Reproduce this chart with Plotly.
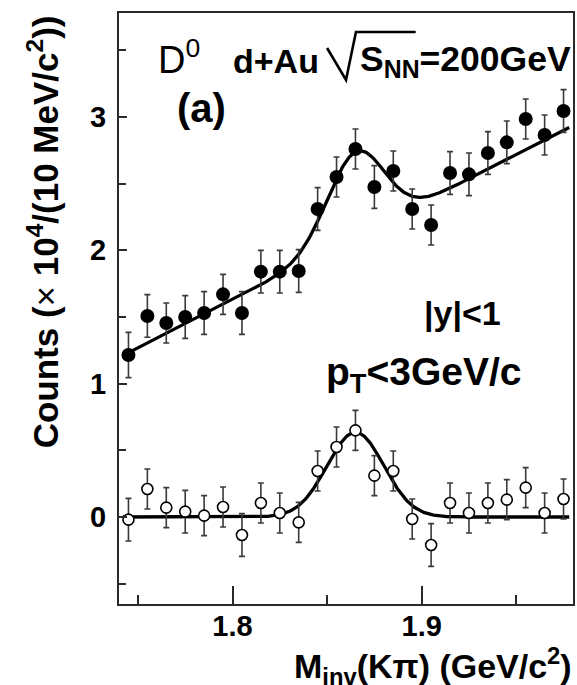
import numpy as np
import plotly.graph_objects as go

# Invariant-mass bin centres (GeV/c^2), 10 MeV bins
mass = [1.745, 1.755, 1.765, 1.775, 1.785, 1.795, 1.805, 1.815, 1.825, 1.835,
        1.845, 1.855, 1.865, 1.875, 1.885, 1.895, 1.905, 1.915, 1.925, 1.935,
        1.945, 1.955, 1.965, 1.975]

# Unlike-sign K-pi pairs (x10^4 counts per bin)
counts_total = [1.215, 1.508, 1.455, 1.50, 1.53, 1.67, 1.53, 1.84, 1.84, 1.845,
                2.31, 2.55, 2.76, 2.475, 2.595, 2.31, 2.19, 2.58, 2.57, 2.73,
                2.81, 2.985, 2.865, 3.045]
err_total = [0.17, 0.16, 0.15, 0.16, 0.16, 0.15, 0.16, 0.16, 0.16, 0.16,
             0.16, 0.15, 0.15, 0.16, 0.15, 0.15, 0.15, 0.16, 0.16, 0.16,
             0.16, 0.15, 0.15, 0.16]

# Background-subtracted signal
counts_signal = [-0.02, 0.21, 0.07, 0.04, 0.01, 0.075, -0.135, 0.105, 0.03, -0.04,
                 0.345, 0.525, 0.65, 0.31, 0.345, -0.015, -0.21, 0.105, 0.03, 0.105,
                 0.13, 0.22, 0.03, 0.135]
err_signal = [0.16, 0.15, 0.15, 0.16, 0.15, 0.15, 0.16, 0.15, 0.15, 0.15,
              0.15, 0.15, 0.15, 0.15, 0.15, 0.15, 0.16, 0.15, 0.15, 0.15,
              0.15, 0.15, 0.15, 0.15]

# Fit: Gaussian peak on a linear background
peak_mass = 1.865
peak_sigma = 0.015
peak_amp = 0.635
bkg_ref_mass = 1.745
bkg_at_ref = 1.232
bkg_slope = 7.25

x_range = [1.74, 1.98]
y_range = [-0.6525, 3.78]

fit_m = np.linspace(1.742, 1.978, 400)
fit_signal = peak_amp * np.exp(-0.5 * ((fit_m - peak_mass) / peak_sigma) ** 2)
fit_total = bkg_at_ref + bkg_slope * (fit_m - bkg_ref_mass) + fit_signal

W, H = 577, 685
ML, MR, MT, MB = 119, 2, 13, 81
PW, PH = W - ML - MR, H - MT - MB


def px(x):
    return (x - ML) / PW


def py(y):
    return (H - MB - y) / PH


FONT = "Liberation Sans, Arial, sans-serif"
ERR_COLOR = "#3a3a3a"

fig = go.Figure()

fig.add_trace(go.Scatter(
    x=fit_m, y=fit_total, mode="lines",
    line=dict(color="black", width=3.3), hoverinfo="skip"))
fig.add_trace(go.Scatter(
    x=fit_m, y=fit_signal, mode="lines",
    line=dict(color="black", width=3.3), hoverinfo="skip"))

fig.add_trace(go.Scatter(
    x=mass, y=counts_total, mode="markers",
    marker=dict(symbol="circle", size=14, color="black"),
    error_y=dict(type="data", array=err_total, color=ERR_COLOR,
                 thickness=1.6, width=3)))
fig.add_trace(go.Scatter(
    x=mass, y=counts_signal, mode="markers",
    marker=dict(symbol="circle", size=11, color="white",
                line=dict(color="black", width=1.6)),
    error_y=dict(type="data", array=err_signal, color=ERR_COLOR,
                 thickness=1.6, width=3)))

axis_common = dict(showgrid=False, zeroline=False, showline=True, mirror=True,
                   linecolor="#2a2a2a", linewidth=2, ticks="inside",
                   tickcolor="#2a2a2a", tickwidth=1.6)

fig.update_xaxes(range=x_range, tickmode="array", tickvals=[1.8, 1.9],
                 ticktext=["1.8", "1.9"], ticklen=18, ticklabelstandoff=-5,
                 tickfont=dict(family=FONT, size=29, color="black", weight="bold"),
                 minor=dict(tickmode="array", tickvals=[1.75, 1.85, 1.95],
                            ticks="inside", ticklen=9, tickcolor="#2a2a2a",
                            tickwidth=1.6),
                 **axis_common)
fig.update_yaxes(range=y_range, tickmode="array", tickvals=[0, 1, 2, 3],
                 ticktext=["0", "1", "2", "3"], ticklen=8, ticklabelstandoff=5,
                 tickfont=dict(family=FONT, size=29, color="black", weight="bold"),
                 minor=dict(tickmode="array", tickvals=[-0.5, 0.5, 1.5, 2.5, 3.5],
                            ticks="inside", ticklen=7, tickcolor="#2a2a2a",
                            tickwidth=1.6),
                 **axis_common)

annotations = [
    dict(text="D<sup>0</sup>", x=px(156), y=py(57), xanchor="left", yanchor="middle",
         font=dict(family=FONT, size=38, color="black")),
    dict(text="<b>d+Au</b>", x=px(231), y=py(61), xanchor="left", yanchor="middle",
         font=dict(family=FONT, size=34, color="black")),
    dict(text="<b>S<sub>NN</sub>=200GeV</b>", x=px(359), y=py(61), xanchor="left",
         yanchor="middle", font=dict(family=FONT, size=35.5, color="black")),
    dict(text="<b>(a)</b>", x=px(175), y=py(108), xanchor="left", yanchor="middle",
         font=dict(family=FONT, size=40, color="black")),
    dict(text="<b>|y|<1</b>", x=px(423), y=py(313), xanchor="left", yanchor="middle",
         font=dict(family=FONT, size=34, color="black")),
    dict(text="<b>p<sub>T</sub><3GeV/c</b>", x=px(325), y=py(374), xanchor="left",
         yanchor="middle", font=dict(family=FONT, size=39, color="black")),
    dict(text="<b>Counts (</b>× <b>10<sup>4</sup>/(10 MeV/c<sup>2</sup>))</b>",
         x=px(43), y=py(232), xanchor="center", yanchor="middle", textangle=-90,
         font=dict(family=FONT, size=35, color="black")),
    dict(text="<b>M<sub>inv</sub>(Kπ) (GeV/c<sup>2</sup>)</b>",
         x=px(576), y=py(666), xanchor="right", yanchor="middle",
         font=dict(family=FONT, size=34, color="black")),
]
for a in annotations:
    a.update(xref="paper", yref="paper", showarrow=False)

# radical sign over S_NN
radical = (f"M {px(328)},{py(48)} L {px(347)},{py(80)} "
           f"L {px(357)},{py(32)} L {px(417)},{py(32)}")

fig.update_layout(
    width=W, height=H,
    margin=dict(l=ML, r=MR, t=MT, b=MB, pad=0),
    paper_bgcolor="white", plot_bgcolor="white",
    showlegend=False,
    annotations=annotations,
    shapes=[dict(type="path", path=radical, xref="paper", yref="paper",
                 line=dict(color="black", width=2.6))],
)

fig.write_html("out.html")
